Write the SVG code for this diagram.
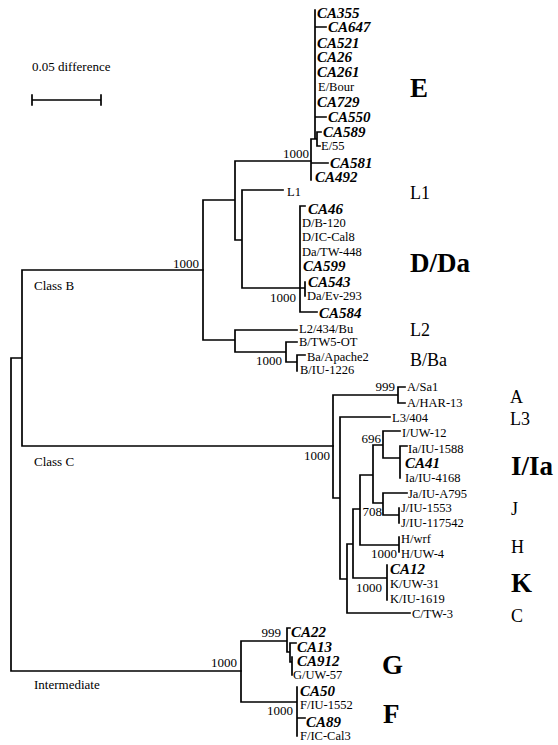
<svg xmlns="http://www.w3.org/2000/svg" width="558" height="745" viewBox="0 0 558 745">
<style>
.br{stroke:#000;stroke-width:1.7;fill:none;stroke-linecap:square}
text{font-family:"Liberation Serif","Times New Roman",serif;fill:#000}
.t{font-size:12.5px}
.ca{font-size:15px;font-weight:bold;font-style:italic}
.bs{font-size:13px;text-anchor:end}
.big{font-size:27px;font-weight:bold}
.mid{font-size:18px}
</style>
<rect width="558" height="745" fill="#fff"/>
<g id="scale">
<text class="t" x="32" y="71" style="font-size:13px">0.05 difference</text>
<path class="br" d="M32,100H101M32,95V105M101,95V105"/>
</g>
<g id="connectors">
<path class="br" d="M11,358V671M11,358H22M22,270V446M22,270H203M22,446H333M11,671H241"/>
<path class="br" d="M203,200V340M203,200H235M235,161V240M235,161H311M235,240H242M242,190V288M242,190H283M242,288H300M300,206V312M300,206H305M300,288H305M305,282V296M300,312H317M203,340H235M235,330V352M235,330H297M235,352H286M286,342V362M286,342H297M286,362H297M297,355V371M297,355H305"/>
<path class="br" d="M311,139V180M311,139H315M315,10V139M315,27H326M315,117H326M315,139H317M317,132V146M317,132H321M317,146H320M311,163H328"/>
<path class="br" d="M333,395V498M333,395H398M398,387V403M398,387H405M398,403H405M333,498H340M340,417V579M340,417H390M340,579H347M347,544V613M347,613H410M347,544H353M353,509V578M353,578H387M387,565V600M353,509H360M360,475V545M360,545H399M399,537V552M360,475H373M373,445V503M373,445H383M383,431V458M383,431H400M383,458H400M400,446V478M400,446H407M373,503H383M383,493V515M383,493H407M383,515H399M399,508V523"/>
<path class="br" d="M241,641V702M241,641H287M287,628V652M287,628H290M287,652H290M290,643V662M290,643H296M290,662H292M292,657V675M241,702H297M297,687V736M297,718H305"/>
</g>
<g id="bootstrap">
<text class="bs" x="199" y="268">1000</text>
<text class="bs" x="309" y="158">1000</text>
<text class="bs" x="296" y="302">1000</text>
<text class="bs" x="282" y="365">1000</text>
<text class="bs" x="330" y="460">1000</text>
<text class="bs" x="395" y="391">999</text>
<text class="bs" x="381" y="443">696</text>
<text class="bs" x="382" y="516">708</text>
<text class="bs" x="397" y="558">1000</text>
<text class="bs" x="382" y="592">1000</text>
<text class="bs" x="237" y="667">1000</text>
<text class="bs" x="281" y="637">999</text>
<text class="bs" x="293" y="715">1000</text>
</g>
<g id="classes">
<text class="t" x="34" y="290" style="font-size:13px">Class B</text>
<text class="t" x="34" y="466" style="font-size:13px">Class C</text>
<text class="t" x="34" y="689" style="font-size:13px">Intermediate</text>
</g>
<g id="clade-E">
<text class="ca" x="317" y="18">CA355</text>
<text class="ca" x="328" y="32">CA647</text>
<text class="ca" x="317" y="48">CA521</text>
<text class="ca" x="317" y="62">CA26</text>
<text class="ca" x="317" y="77">CA261</text>
<text class="t" x="318" y="91">E/Bour</text>
<text class="ca" x="317" y="107">CA729</text>
<text class="ca" x="328" y="122">CA550</text>
<text class="ca" x="323" y="137">CA589</text>
<text class="t" x="321" y="150">E/55</text>
<text class="ca" x="330" y="168">CA581</text>
<text class="ca" x="315" y="182">CA492</text>
<text class="big" x="410" y="97">E</text>
</g>
<g id="clade-L1">
<text class="t" x="287" y="196">L1</text>
<text class="mid" x="410" y="199">L1</text>
</g>
<g id="clade-D">
<text class="ca" x="308" y="214">CA46</text>
<text class="t" x="302" y="227">D/B-120</text>
<text class="t" x="302" y="241">D/IC-Cal8</text>
<text class="t" x="302" y="256">Da/TW-448</text>
<text class="ca" x="303" y="271">CA599</text>
<text class="ca" x="308" y="287">CA543</text>
<text class="t" x="307" y="300">Da/Ev-293</text>
<text class="ca" x="319" y="318">CA584</text>
<text class="big" x="410" y="272">D/Da</text>
</g>
<g id="clade-L2">
<text class="t" x="299" y="333">L2/434/Bu</text>
<text class="mid" x="410" y="336">L2</text>
</g>
<g id="clade-B">
<text class="t" x="299" y="346">B/TW5-OT</text>
<text class="t" x="307" y="361">Ba/Apache2</text>
<text class="t" x="300" y="374">B/IU-1226</text>
<text class="mid" x="410" y="366">B/Ba</text>
</g>
<g id="clade-A">
<text class="t" x="407" y="391">A/Sa1</text>
<text class="t" x="407" y="407">A/HAR-13</text>
<text class="mid" x="510" y="403">A</text>
</g>
<g id="clade-L3">
<text class="t" x="392" y="422">L3/404</text>
<text class="mid" x="510" y="425">L3</text>
</g>
<g id="clade-I">
<text class="t" x="402" y="437">I/UW-12</text>
<text class="t" x="408" y="453">Ia/IU-1588</text>
<text class="ca" x="405" y="468">CA41</text>
<text class="t" x="405" y="482">Ia/IU-4168</text>
<text class="big" x="511" y="475">I/Ia</text>
</g>
<g id="clade-J">
<text class="t" x="408" y="498">Ja/IU-A795</text>
<text class="t" x="401" y="512">J/IU-1553</text>
<text class="t" x="401" y="527">J/IU-117542</text>
<text class="mid" x="511" y="515">J</text>
</g>
<g id="clade-H">
<text class="t" x="401" y="543">H/wrf</text>
<text class="t" x="401" y="558">H/UW-4</text>
<text class="mid" x="511" y="553">H</text>
</g>
<g id="clade-K">
<text class="ca" x="390" y="574">CA12</text>
<text class="t" x="390" y="588">K/UW-31</text>
<text class="t" x="390" y="603">K/IU-1619</text>
<text class="big" x="511" y="592">K</text>
</g>
<g id="clade-C">
<text class="t" x="412" y="618">C/TW-3</text>
<text class="mid" x="511" y="622">C</text>
</g>
<g id="clade-G">
<text class="ca" x="291" y="637">CA22</text>
<text class="ca" x="297" y="652">CA13</text>
<text class="ca" x="297" y="666">CA912</text>
<text class="t" x="293" y="679">G/UW-57</text>
<text class="big" x="382" y="674">G</text>
</g>
<g id="clade-F">
<text class="ca" x="300" y="696">CA50</text>
<text class="t" x="300" y="709">F/IU-1552</text>
<text class="ca" x="306" y="727">CA89</text>
<text class="t" x="300" y="740">F/IC-Cal3</text>
<text class="big" x="383" y="723">F</text>
</g>
</svg>
